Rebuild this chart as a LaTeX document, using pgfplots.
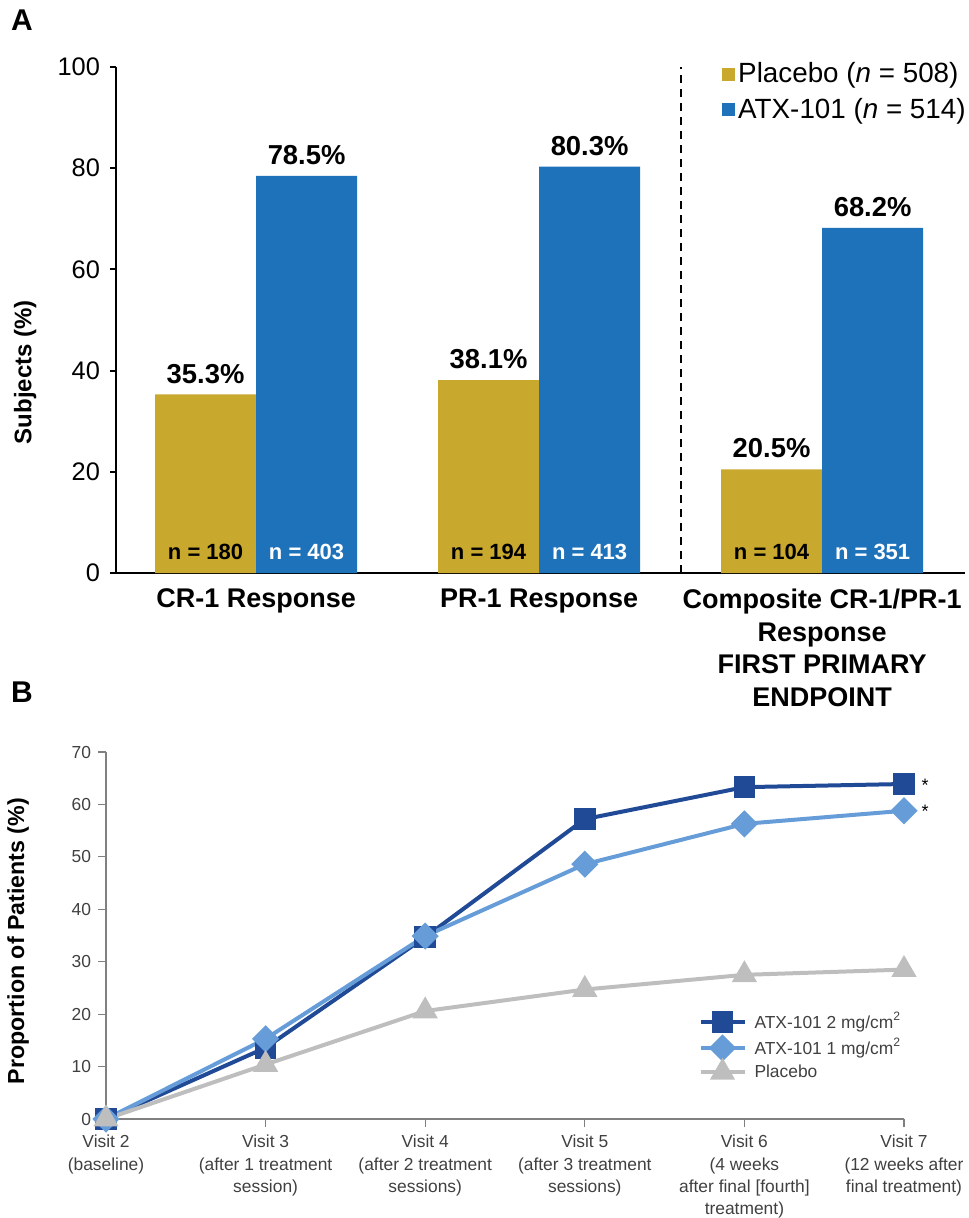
\documentclass[border=0pt]{standalone}
\usepackage{pgfplots}
\pgfplotsset{compat=1.18}
\usepackage{fontspec}
\setmainfont{Liberation Sans}
\definecolor{gold}{RGB}{201,168,46}
\definecolor{atxblue}{RGB}{30,114,186}
\definecolor{navy}{RGB}{32,74,150}
\definecolor{lblue}{RGB}{102,157,216}
\definecolor{lgray}{RGB}{190,190,190}
\definecolor{axgray}{RGB}{128,128,128}
\definecolor{txt}{RGB}{64,64,64}
\begin{document}
\begin{tikzpicture}
\useasboundingbox (0,0) rectangle (484pt,-609pt);
\node[font=\bfseries\fontsize{15}{18}\selectfont] at (11pt,-10pt) {A};
\node[font=\bfseries\fontsize{15}{18}\selectfont] at (11pt,-346pt) {B};

\begin{axis}[
  at={(58pt,-286.5pt)}, anchor=south west, scale only axis,
  width=424.5pt, height=253pt,
  axis lines=left, axis line style={-, line width=1pt},
  xmin=-0.495, xmax=2.505, ymin=0, ymax=100,
  ytick={0,20,...,100}, xtick={0,1,2},
  xticklabels={{CR-1 Response},{PR-1 Response},{Composite CR-1/PR-1\\Response\\FIRST PRIMARY\\ENDPOINT}},
  ybar, bar width=0.357,
  major x tick style={draw=none},
  y tick style={line width=1pt, black},
  tick align=outside, major tick length=3pt,
  /pgf/number format/assume math mode=true,
  yticklabel style={font=\fontsize{12.7}{15}\selectfont, xshift=-1.5pt},
  xticklabel style={font=\bfseries\fontsize{13.5}{16.3}\selectfont, align=center, yshift=-1.5pt},
  ylabel={Subjects (\%)},
  every axis y label/.style={at={(axis description cs:-0.107,0.397)}, rotate=90, anchor=center, font=\bfseries\fontsize{12}{14}\selectfont},
  nodes near coords={\pgfmathprintnumber[fixed,precision=1,fixed zerofill]{\pgfplotspointmeta}\%},
  every node near coord/.append style={font=\bfseries\fontsize{13.7}{15}\selectfont, black, anchor=south, yshift=2pt},
  legend style={at={(axis cs:1.645,101.5)}, anchor=north west, draw=none, fill=none,
    font=\fontsize{13.9}{16}\selectfont, row sep=3pt, inner sep=0pt, nodes={inner sep=1.5pt}},
  legend cell align=left,
  clip=false,
]
\addplot[fill=gold, draw=none, bar shift=-0.1785,
  legend image code/.code={\fill[gold] (0pt,-3.3pt) rectangle (6.6pt,3.3pt);}]
  coordinates {(0,35.3) (1,38.1) (2,20.5)};
\addlegendentry{Placebo (\textit{n} = 508)}
\addplot[fill=atxblue, draw=none, bar shift=0.1785,
  legend image code/.code={\fill[atxblue] (0pt,-3.3pt) rectangle (6.6pt,3.3pt);}]
  coordinates {(0,78.5) (1,80.3) (2,68.2)};
\addlegendentry{ATX-101 (\textit{n} = 514)}
\draw[dash pattern=on 4pt off 3pt, line width=1pt] (axis cs:1.5,0) -- (axis cs:1.5,100);
\node[font=\bfseries\fontsize{11}{13}\selectfont, black] at (axis cs:-0.1785,4.2) {n = 180};
\node[font=\bfseries\fontsize{11}{13}\selectfont, white] at (axis cs:0.1785,4.2) {n = 403};
\node[font=\bfseries\fontsize{11}{13}\selectfont, black] at (axis cs:0.8215,4.2) {n = 194};
\node[font=\bfseries\fontsize{11}{13}\selectfont, white] at (axis cs:1.1785,4.2) {n = 413};
\node[font=\bfseries\fontsize{11}{13}\selectfont, black] at (axis cs:1.8215,4.2) {n = 104};
\node[font=\bfseries\fontsize{11}{13}\selectfont, white] at (axis cs:2.1785,4.2) {n = 351};
\end{axis}

\begin{axis}[
  at={(53pt,-559.5pt)}, anchor=south west, scale only axis,
  width=399pt, height=183.5pt,
  axis lines=left, axis line style={-, axgray, line width=0.6pt},
  xmin=0, xmax=5, ymin=0, ymax=70,
  ytick={0,10,...,70}, xtick={0,...,5},
  tick align=outside, major tick length=4pt,
  tick style={axgray, line width=0.6pt},
  /pgf/number format/assume math mode=true,
  ticklabel style={txt, font=\fontsize{8.7}{11.2}\selectfont},
  xticklabel style={align=center, yshift=-0.5pt},
  xticklabels={{Visit 2\\(baseline)},{Visit 3\\(after 1 treatment\\session)},{Visit 4\\(after 2 treatment\\sessions)},{Visit 5\\(after 3 treatment\\sessions)},{Visit 6\\(4 weeks\\after final [fourth]\\treatment)},{Visit 7\\(12 weeks after\\final treatment)}},
  ylabel={Proportion of Patients (\%)},
  every axis y label/.style={at={(axis description cs:-0.110,0.485)}, rotate=90, anchor=center, font=\bfseries\fontsize{11.6}{13}\selectfont},
  legend style={at={(axis cs:3.71,21)}, anchor=north west, draw=none, fill=none,
    font=\fontsize{8.7}{10}\selectfont, text=txt, row sep=0.5pt, inner sep=0pt, nodes={inner sep=1.5pt},
    /tikz/every odd column/.append style={column sep=2.5pt}},
  legend cell align=left,
  legend image code/.code={\draw[mark repeat=2,mark phase=2,#1] plot coordinates {(0pt,0pt)(11pt,0pt)(22pt,0pt)};},
  clip=false,
]
\addplot[navy, line width=2pt, mark=square*, mark size=4.4pt]
  coordinates {(0,0) (1,13.6) (2,34.7) (3,57.2) (4,63.3) (5,63.9)};
\addlegendentry{ATX-101 2 mg/cm\textsuperscript{2}}
\addplot[lblue, line width=2pt, mark=square*, mark size=3.8pt, mark options={rotate=45}]
  coordinates {(0,0) (1,15.3) (2,34.9) (3,48.6) (4,56.3) (5,58.8)};
\addlegendentry{ATX-101 1 mg/cm\textsuperscript{2}}
\addplot[lgray, line width=2pt, mark=triangle*, mark size=5.3pt]
  coordinates {(0,0) (1,10.4) (2,20.6) (3,24.7) (4,27.5) (5,28.5)};
\addlegendentry{Placebo}
\node[font=\fontsize{9}{10}\selectfont, black] at (axis cs:5,63.9) [xshift=10.5pt, yshift=-0.5pt] {*};
\node[font=\fontsize{9}{10}\selectfont, black] at (axis cs:5,58.8) [xshift=10.5pt, yshift=-0.5pt] {*};
\end{axis}
\end{tikzpicture}
\end{document}
